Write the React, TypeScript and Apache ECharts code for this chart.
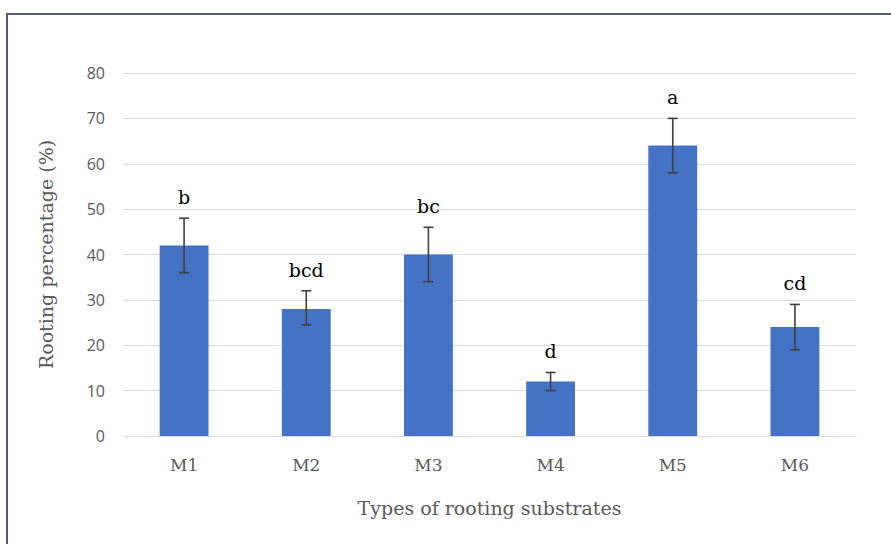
import React, { useEffect, useRef } from "react";
import * as echarts from "echarts";

const categories = ["M1", "M2", "M3", "M4", "M5", "M6"];
const means = [42, 28, 40, 12, 64, 24];
const errLow = [36, 24.5, 34, 10, 58, 19];
const errHigh = [48, 32, 46, 14, 70, 29];
const letters = ["b", "bcd", "bc", "d", "a", "cd"];

const SERIF = "'DejaVu Serif', 'Liberation Serif', serif";
const SANS = "'Open Sans', 'Liberation Sans', sans-serif";

export default function App() {
  const ref = useRef<HTMLDivElement>(null);
  useEffect(() => {
    if (!ref.current) return;
    const chart = echarts.init(ref.current, undefined, { renderer: "svg" });
    const errData = categories.map((c, i) => [i, errLow[i], errHigh[i], letters[i]]);
    chart.setOption({
      animation: false,
      backgroundColor: "#ffffff",
      graphic: [
        {
          type: "rect",
          shape: { x: 7, y: 14, width: 900, height: 560 },
          style: { fill: "none", stroke: "#4f5f78", lineWidth: 2 },
          silent: true,
        },
      ],
      grid: { left: 123, right: 35, top: 73, bottom: 108 },
      xAxis: {
        type: "category",
        data: categories,
        axisLine: { show: true, lineStyle: { color: "#d9d9d9", width: 1 } },
        axisTick: { show: false },
        axisLabel: { color: "#595959", fontFamily: SERIF, fontSize: 17, margin: 20 },
        name: "Types of rooting substrates",
        nameLocation: "middle",
        nameGap: 62,
        nameTextStyle: { color: "#595959", fontFamily: SERIF, fontSize: 19 },
      },
      yAxis: {
        type: "value",
        min: 0,
        max: 80,
        interval: 10,
        axisLine: { show: false },
        axisTick: { show: false },
        splitLine: { lineStyle: { color: "#d9d9d9", width: 1 } },
        axisLabel: { color: "#595959", fontFamily: SANS, fontSize: 16, margin: 18 },
        name: "Rooting percentage (%)",
        nameLocation: "middle",
        nameGap: 68,
        nameTextStyle: { color: "#595959", fontFamily: SERIF, fontSize: 19 },
      },
      series: [
        {
          type: "bar",
          data: means,
          barWidth: "40%",
          itemStyle: { color: "#4472c4" },
        },
        {
          type: "custom",
          data: errData,
          z: 10,
          renderItem: (params: any, api: any) => {
            const i = api.value(0);
            const lo = api.coord([i, api.value(1)]);
            const hi = api.coord([i, api.value(2)]);
            const letter = letters[params.dataIndex];
            const cap = 5;
            const stroke = { stroke: "#404040", lineWidth: 1.6 };
            return {
              type: "group",
              children: [
                { type: "line", shape: { x1: hi[0], y1: hi[1], x2: lo[0], y2: lo[1] }, style: stroke },
                { type: "line", shape: { x1: hi[0] - cap, y1: hi[1], x2: hi[0] + cap, y2: hi[1] }, style: stroke },
                { type: "line", shape: { x1: lo[0] - cap, y1: lo[1], x2: lo[0] + cap, y2: lo[1] }, style: stroke },
                {
                  type: "text",
                  x: hi[0],
                  y: hi[1] - 21,
                  style: {
                    text: letter,
                    fill: "#000000",
                    font: `19px ${SERIF}`,
                    align: "center",
                    verticalAlign: "middle",
                  },
                },
              ],
            };
          },
        },
      ],
    });
    return () => chart.dispose();
  }, []);
  return (
    <div
      ref={ref}
      style={{ position: "fixed", left: 0, top: 0, width: 891, height: 544 }}
    />
  );
}
